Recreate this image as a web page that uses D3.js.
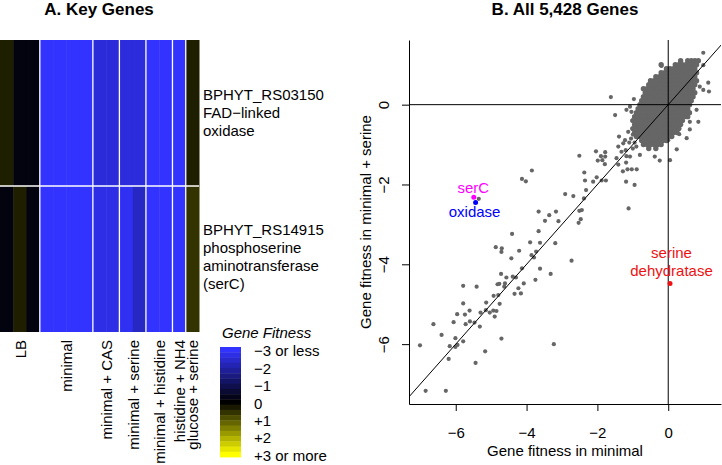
<!DOCTYPE html>
<html>
<head>
<meta charset="utf-8">
<script src="https://cdn.jsdelivr.net/npm/d3@7"></script>
<style>
  body { margin: 0; background: #fff; }
  text { font-family: "Liberation Sans", Arial, Helvetica, sans-serif; }
</style>
</head>
<body>
<div id="container"></div>
<script>
/* CONSTANTS AND GLOBALS */
const width = 722
const height = 465

/* DATA */
// panel A: heatmap, one column per replicate
const conditions = ["LB", "LB", "LB", "minimal", "minimal", "minimal", "minimal",
  "minimal + CAS", "minimal + CAS", "minimal + serine", "minimal + serine",
  "minimal + histidine", "minimal + histidine", "histidine + NH4", "glucose + serine"]
const genes = ["BPHYT_RS03150", "BPHYT_RS14915"]
const geneLabels = [
  ["BPHYT_RS03150", "FAD\u2212linked", "oxidase"],
  ["BPHYT_RS14915", "phosphoserine", "aminotransferase", "(serC)"]
]
const fitness = [
  [0.35, -0.18, -0.18, -3.5, -3.5, -3.5, -3.5, -2.55, -2.55, -2.6, -2.6, -3.2, -3.2, -3.3, 0.35],
  [-0.18, 0.36, -0.18, -3.5, -3.5, -3.5, -3.5, -2.7, -2.7, -2.85, -2.3, -3.1, -3.1, -3.3, 0.6]
]
const legendValues = [-3, -2, -1, 0, 1, 2, 3]
const legendLabels = ["\u22123 or less", "\u22122", "\u22121", "0", "+1", "+2", "+3 or more"]
const legendSteps = [-3, -2.7, -2.4, -2.1, -1.8, -1.5, -1.2, -0.9, -0.6, -0.3, 0,
  0.3, 0.6, 0.9, 1.2, 1.5, 1.8, 2.1, 2.4, 2.7, 3]

// panel B: scatter, fitness in minimal (x) vs minimal + serine (y)
const xTicks = [-6, -4, -2, 0]
const yTicks = [-6, -4, -2, 0]
const cloudRows = [
  { y: 1.1, xs: [0.35, 0.55, 0.65, 0.75, 0.85] },
  { y: 1.0, xs: [-0.2, 0.2, 0.3, 0.4, 0.5, 0.6, 0.7, 0.8] },
  { y: 0.9, xs: [-0.05, 0.05, 0.15, 0.25, 0.35, 0.45, 0.55, 0.65, 0.75] },
  { y: 0.8, xs: [-0.2, -0.1, 0, 0.1, 0.2, 0.3, 0.4, 0.5, 0.6, 0.7, 0.8] },
  { y: 0.7, xs: [-0.35, -0.25, -0.15, -0.05, 0.05, 0.15, 0.25, 0.35, 0.45, 0.55, 0.65, 0.75] },
  { y: 0.6, xs: [-0.5, -0.4, -0.3, -0.2, -0.1, 0, 0.1, 0.2, 0.3, 0.4, 0.5, 0.6, 0.7, 0.8] },
  { y: 0.5, xs: [-0.55, -0.45, -0.35, -0.25, -0.15, -0.05, 0.05, 0.15, 0.25, 0.35, 0.45, 0.55, 0.65, 0.75] },
  { y: 0.4, xs: [-0.7, -0.6, -0.5, -0.4, -0.3, -0.2, -0.1, 0, 0.1, 0.2, 0.3, 0.4, 0.5, 0.6, 0.7] },
  { y: 0.3, xs: [-0.65, -0.55, -0.45, -0.35, -0.25, -0.15, -0.05, 0.05, 0.15, 0.25, 0.35, 0.45, 0.55, 0.65, 0.75] },
  { y: 0.2, xs: [-0.7, -0.6, -0.5, -0.4, -0.3, -0.2, -0.1, 0, 0.1, 0.2, 0.3, 0.4, 0.5, 0.6, 0.7] },
  { y: 0.1, xs: [-0.75, -0.65, -0.55, -0.45, -0.35, -0.25, -0.15, -0.05, 0.05, 0.15, 0.25, 0.35, 0.45, 0.55, 0.65] },
  { y: 0.0, xs: [-0.8, -0.7, -0.6, -0.5, -0.4, -0.3, -0.2, -0.1, 0, 0.1, 0.2, 0.3, 0.4, 0.5, 0.6] },
  { y: -0.1, xs: [-0.85, -0.75, -0.65, -0.55, -0.45, -0.35, -0.25, -0.15, -0.05, 0.05, 0.15, 0.25, 0.35, 0.45, 0.55] },
  { y: -0.2, xs: [-0.9, -0.8, -0.7, -0.6, -0.5, -0.4, -0.3, -0.2, -0.1, 0, 0.1, 0.2, 0.3, 0.4, 0.5, 0.6] },
  { y: -0.3, xs: [-0.95, -0.85, -0.75, -0.65, -0.55, -0.45, -0.35, -0.25, -0.15, -0.05, 0.05, 0.15, 0.25, 0.35, 0.45, 0.55] },
  { y: -0.4, xs: [-1.0, -0.9, -0.8, -0.7, -0.6, -0.5, -0.4, -0.3, -0.2, -0.1, 0, 0.1, 0.2, 0.3, 0.4] },
  { y: -0.5, xs: [-0.95, -0.85, -0.75, -0.65, -0.55, -0.45, -0.35, -0.25, -0.15, -0.05, 0.05, 0.15, 0.25, 0.35] },
  { y: -0.6, xs: [-1.0, -0.9, -0.8, -0.7, -0.6, -0.5, -0.4, -0.3, -0.2, -0.1, 0, 0.1, 0.2, 0.3] },
  { y: -0.7, xs: [-0.95, -0.85, -0.75, -0.65, -0.55, -0.45, -0.35, -0.25, -0.15, -0.05, 0.05, 0.15, 0.25] },
  { y: -0.8, xs: [-0.9, -0.8, -0.7, -0.6, -0.5, -0.4, -0.3, -0.2, -0.1, 0, 0.1] },
  { y: -0.9, xs: [-0.75, -0.65, -0.55, -0.45, -0.35, -0.25, -0.15, -0.05] },
  { y: -1.0, xs: [-0.7, -0.6, -0.5, -0.4, -0.3, -0.2] },
  { y: -1.1, xs: [-0.55, -0.35] }
]
// genes outside the dense cloud [x, y]
const sparsePoints = [
  [-4.87,-3.57],[-4.70,-3.60],[-4.71,-3.69],[-4.21,-3.66],[-4.43,-3.85],[-3.90,-3.45],[-3.62,-3.46],[-3.19,-3.47],
  [-3.86,-3.77],[-3.79,-3.83],[-3.73,-3.68],[-4.13,-4.10],[-3.62,-4.11],[-3.32,-4.24],[-3.75,-4.39],[-4.08,-4.48],
  [-4.23,-4.60],[-4.16,-4.73],[-4.34,-4.74],[-4.72,-4.24],[-4.57,-4.33],[-4.39,-4.31],[-4.30,-4.33],[-4.82,-4.50],
  [-4.77,-4.49],[-4.61,-4.48],[-4.63,-4.56],[-5.41,-4.56],[-5.79,-4.54],[-5.79,-4.98],[-4.93,-4.79],[-4.80,-4.77],
  [-5.14,-4.96],[-4.76,-4.99],[-5.15,-5.15],[-5.30,-5.21],[-5.04,-5.21],[-4.94,-5.16],[-4.85,-5.17],[-4.90,-5.31],
  [-5.96,-5.25],[-5.74,-5.26],[-5.61,-5.16],[-6.06,-5.45],[-5.72,-5.50],[-5.60,-5.43],[-5.47,-5.46],[-5.32,-5.56],
  [-6.63,-5.50],[-6.40,-5.77],[-6.01,-5.85],[-5.79,-5.93],[-6.17,-6.05],[-5.95,-6.02],[-6.01,-6.07],[-7.01,-6.03],
  [-4.71,-5.86],[-5.17,-6.18],[-6.20,-6.37],[-5.44,-6.47],[-3.23,-6.00],[-6.85,-7.17],[-6.28,-7.17],[-2.73,-3.91],
  [-3.85,-1.65],[-4.13,-1.86],[-4.02,-1.92],[-2.51,-1.28],[-2.04,-1.17],[-1.78,-1.19],[-1.90,-1.29],[-1.78,-1.30],
  [-1.99,-1.40],[-1.86,-1.39],[-1.79,-1.49],[-1.46,-1.34],[-1.32,-1.18],[-1.39,-0.80],[-1.18,-1.29],[-1.19,-1.45],
  [-1.41,-1.50],[-1.15,-1.62],[-1.03,-1.62],[-0.89,-1.62],[-1.28,-1.67],[-2.37,-1.70],[-2.02,-1.82],[-2.12,-1.93],
  [-1.88,-1.90],[-1.76,-1.90],[-2.35,-1.90],[-1.19,-1.93],[-0.95,-2.01],[-2.32,-2.14],[-2.91,-2.24],[-2.68,-2.29],
  [-2.38,-2.35],[-3.66,-2.68],[-3.17,-2.68],[-3.36,-2.77],[-3.48,-2.91],[-3.10,-2.92],[-2.51,-2.66],[-2.44,-2.64],
  [-2.47,-2.87],[-2.53,-2.96],[-1.12,-2.60],[-4.41,-3.24],[-3.66,-3.17],[-5.35,-2.36],
  [-1.62,0.19],[-1.50,-0.26],[-0.97,0.14],[0.99,1.30],[1.15,0.33],[1.13,0.55],[0.89,0.45],[0.80,-0.13],
  [0.61,-0.43],[0.85,-0.43],[0.61,-0.62],[0.31,-0.74],[0.52,-0.84],[0.24,-1.12],[0.0,-0.89],[-0.38,-1.30],
  [-0.24,-1.40],[0.05,-1.39],[-0.80,-1.26],[-1.08,-1.30],[-1.20,-1.14],[-1.41,-1.05],[-1.27,-0.97],[-1.22,-0.89],
  [-1.13,-0.68],[-1.08,-0.05],[-1.18,-0.13],[-1.04,-0.18],[-0.19,0.97],[0.99,0.99],[0.99,0.37],
  [-1.0,-0.75],[-1.05,-0.85],[-0.95,-0.95],[-1.1,-0.95],[-0.9,-1.05],[-1.0,-1.1]
]
// highlighted genes
const highlights = [
  { name: "serC", x: -5.49, y: -2.32, color: "#ff00ff" },
  { name: "oxidase", x: -5.44, y: -2.45, color: "#0000ff" },
  { name: "serine dehydratase", x: 0.05, y: -4.48, color: "#ee1111" }
]

const svg = d3.select("#container")
  .append("svg")
  .attr("width", width)
  .attr("height", height)

/* PANEL A: HEATMAP */
const colorOf = v => {
  const c = Math.max(-3, Math.min(3, v))
  if (c < 0) return d3.interpolateRgb("#000000", "#3333ff")(-c / 3)
  return d3.interpolateRgb("#000000", "#ffff00")(c / 3)
}

const colScale = d3.scaleBand()
  .domain(d3.range(conditions.length))
  .range([0, 199])

const rowScale = d3.scaleBand()
  .domain(genes)
  .range([40, 332])

const cells = []
genes.forEach((g, i) => {
  fitness[i].forEach((v, j) => cells.push({ gene: g, col: j, v: v }))
})

svg.append("g")
  .selectAll("rect")
  .data(cells)
  .join("rect")
  .attr("x", d => colScale(d.col))
  .attr("y", d => rowScale(d.gene))
  .attr("width", colScale.bandwidth() + 0.5)
  .attr("height", rowScale.bandwidth())
  .attr("fill", d => colorOf(d.v))

// white separators between conditions and genes
const groups = Array.from(new Set(conditions))
const groupInfo = groups.map(name => {
  const idx = conditions.map((c, i) => c === name ? i : -1).filter(i => i >= 0)
  const x0 = colScale(idx[0])
  const x1 = colScale(idx[idx.length - 1]) + colScale.bandwidth()
  return { name, x0, x1 }
})

svg.append("g")
  .selectAll("line")
  .data(groupInfo.slice(1))
  .join("line")
  .attr("x1", d => d.x0).attr("x2", d => d.x0)
  .attr("y1", 40).attr("y2", 332)
  .attr("stroke", "#fff")
  .attr("stroke-width", 1.3)

svg.append("line")
  .attr("x1", 0).attr("x2", 199)
  .attr("y1", rowScale(genes[1])).attr("y2", rowScale(genes[1]))
  .attr("stroke", "#fff")
  .attr("stroke-width", 1.3)

// condition labels
svg.append("g")
  .selectAll("text")
  .data(groupInfo)
  .join("text")
  .attr("transform", d => `translate(${(d.x0 + d.x1) / 2 + 0.5},340) rotate(-90)`)
  .attr("text-anchor", "end")
  .attr("dominant-baseline", "central")
  .attr("font-size", 15)
  .text(d => d.name)

// gene labels
geneLabels.forEach((lines, i) => {
  const cy = rowScale(genes[i]) + rowScale.bandwidth() / 2
  svg.append("g")
    .selectAll("text")
    .data(lines)
    .join("text")
    .attr("x", 203)
    .attr("y", (d, k) => cy + 5 - i * 2 + (k - (lines.length - 1) / 2) * 17.8)
    .attr("font-size", 15)
    .text(d => d)
})

// legend
const legendScale = d3.scaleLinear()
  .domain([-3.15, 3.15])
  .range([347, 457])

svg.append("g")
  .selectAll("rect")
  .data(legendSteps)
  .join("rect")
  .attr("x", 220)
  .attr("width", 21)
  .attr("y", d => legendScale(d - 0.15))
  .attr("height", legendScale(0.3) - legendScale(0) + 0.4)
  .attr("fill", d => colorOf(d))

svg.append("text")
  .attr("x", 222)
  .attr("y", 338)
  .attr("font-size", 15)
  .attr("font-style", "italic")
  .text("Gene Fitness")

svg.append("g")
  .selectAll("text")
  .data(legendValues)
  .join("text")
  .attr("x", 254)
  .attr("y", d => legendScale(d) + 1)
  .attr("dominant-baseline", "central")
  .attr("font-size", 15)
  .text((d, i) => legendLabels[i])

svg.append("text")
  .attr("x", 99)
  .attr("y", 15)
  .attr("text-anchor", "middle")
  .attr("font-size", 17)
  .attr("font-weight", "bold")
  .text("A. Key Genes")

/* PANEL B: SCATTER */
const xScale = d3.scaleLinear()
  .domain([-7.32, 1.49])
  .range([409, 721])

const yScale = d3.scaleLinear()
  .domain([-7.5, 1.62])
  .range([404, 40])

const fmt = d => d < 0 ? "\u2212" + (-d) : String(d)

const xAxis = d3.axisBottom(xScale).tickValues(xTicks).tickSize(7).tickSizeOuter(0).tickFormat(fmt)
svg.append("g")
  .attr("transform", "translate(0,404)")
  .call(xAxis)
  .call(g => g.selectAll(".tick text")
    .attr("y", 28).attr("dy", null)
    .attr("dominant-baseline", "central")
    .attr("font-size", 15)
    .attr("font-family", "Liberation Sans, Arial, sans-serif"))

const yAxis = d3.axisLeft(yScale).tickValues(yTicks).tickSize(7).tickSizeOuter(0).tickFormat(fmt)
svg.append("g")
  .attr("transform", "translate(409,0)")
  .call(yAxis)
  .call(g => g.selectAll(".tick text")
    .attr("x", null).attr("dy", null)
    .attr("transform", "translate(-25.5,0) rotate(-90)")
    .attr("text-anchor", "middle")
    .attr("dominant-baseline", "central")
    .attr("font-size", 15)
    .attr("font-family", "Liberation Sans, Arial, sans-serif"))

svg.append("text")
  .attr("x", 565)
  .attr("y", 450)
  .attr("text-anchor", "middle")
  .attr("dominant-baseline", "central")
  .attr("font-size", 15)
  .text("Gene fitness in minimal")

svg.append("text")
  .attr("transform", "translate(365,222) rotate(-90)")
  .attr("text-anchor", "middle")
  .attr("dominant-baseline", "central")
  .attr("font-size", 15)
  .text("Gene fitness in minimal + serine")

svg.append("text")
  .attr("x", 565)
  .attr("y", 15)
  .attr("text-anchor", "middle")
  .attr("font-size", 17)
  .attr("font-weight", "bold")
  .text("B. All 5,428 Genes")

// points
const cloud = cloudRows.flatMap(r => r.xs.map(x => [x, r.y]))

svg.append("defs").append("clipPath")
  .attr("id", "plotclip")
  .append("rect")
  .attr("x", 409).attr("y", 40).attr("width", 312).attr("height", 364)

svg.append("g")
  .selectAll("circle")
  .data(cloud)
  .join("circle")
  .attr("cx", d => xScale(d[0]))
  .attr("cy", d => yScale(d[1]))
  .attr("r", 2.7)
  .attr("fill", "#666666")

svg.append("g")
  .selectAll("circle")
  .data(sparsePoints)
  .join("circle")
  .attr("cx", d => xScale(d[0]))
  .attr("cy", d => yScale(d[1]))
  .attr("r", 2.1)
  .attr("fill", "#666666")

// reference lines x=0, y=0, y=x
const refs = svg.append("g").attr("clip-path", "url(#plotclip)")
refs.append("line")
  .attr("x1", xScale(0)).attr("x2", xScale(0))
  .attr("y1", 40).attr("y2", 404)
  .attr("stroke", "#000")
refs.append("line")
  .attr("x1", 409).attr("x2", 721)
  .attr("y1", yScale(0)).attr("y2", yScale(0))
  .attr("stroke", "#000")
refs.append("line")
  .attr("x1", xScale(-8)).attr("y1", yScale(-8))
  .attr("x2", xScale(2)).attr("y2", yScale(2))
  .attr("stroke", "#000")

svg.append("g")
  .selectAll("circle")
  .data(highlights)
  .join("circle")
  .attr("cx", d => xScale(d.x))
  .attr("cy", d => yScale(d.y))
  .attr("r", 2.5)
  .attr("fill", d => d.color)

// labels for highlighted genes
svg.append("text")
  .attr("x", xScale(highlights[0].x) - 0.5)
  .attr("y", yScale(highlights[0].y) - 4)
  .attr("text-anchor", "middle")
  .attr("font-size", 15)
  .attr("fill", highlights[0].color)
  .text("serC")

svg.append("text")
  .attr("x", xScale(highlights[1].x) - 1)
  .attr("y", yScale(highlights[1].y) + 14.5)
  .attr("text-anchor", "middle")
  .attr("font-size", 15)
  .attr("fill", highlights[1].color)
  .text("oxidase")

svg.append("g")
  .selectAll("text")
  .data(["serine", "dehydratase"])
  .join("text")
  .attr("x", xScale(highlights[2].x) + 1.5)
  .attr("y", (d, i) => yScale(highlights[2].y) - 25 + i * 18)
  .attr("text-anchor", "middle")
  .attr("font-size", 15)
  .attr("fill", highlights[2].color)
  .text(d => d)
</script>
</body>
</html>
